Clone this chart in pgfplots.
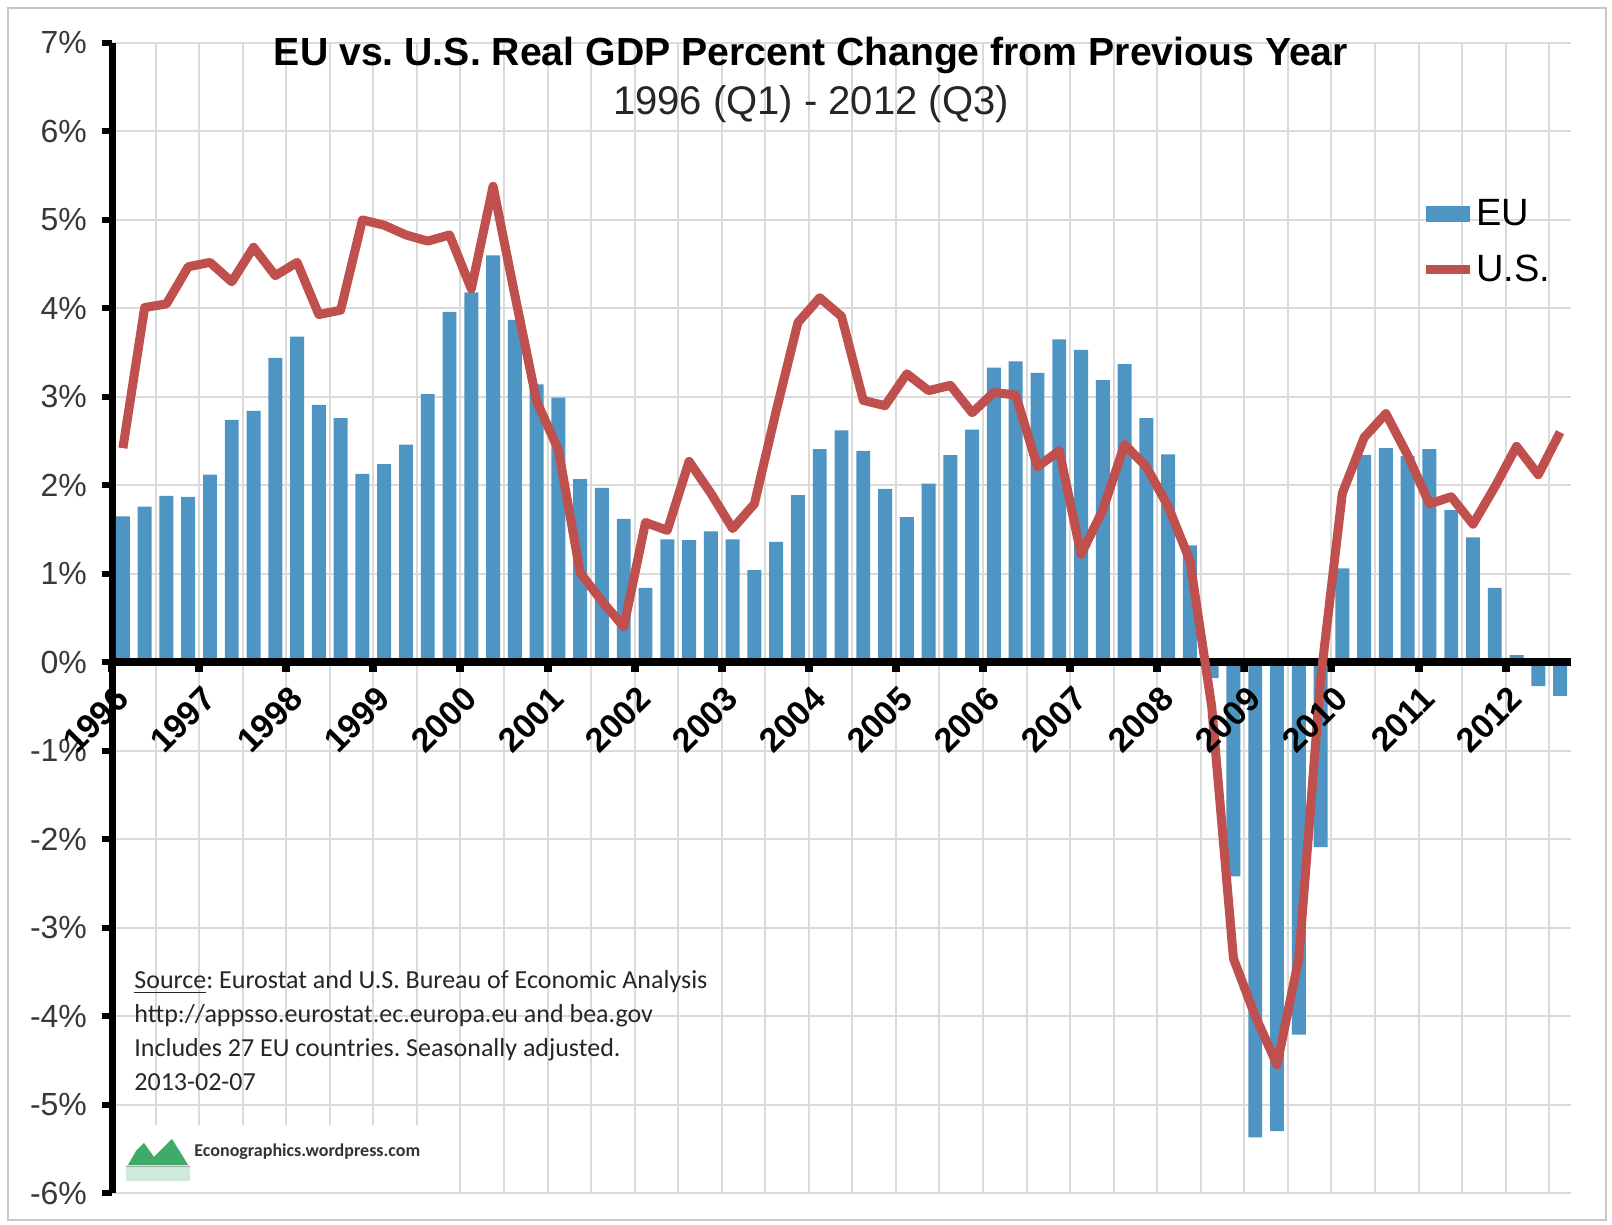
\documentclass[border=0pt]{standalone}
\usepackage{fontspec}
\setmainfont{Liberation Sans}
\newfontfamily\srcfont{Carlito}
\usepackage{pgfplots}
\usepackage{pgfplotstable}
\pgfplotsset{compat=1.18}

\definecolor{eublue}{RGB}{79,149,196}
\definecolor{usred}{RGB}{192,80,77}
\definecolor{gridgray}{RGB}{218,218,218}
\definecolor{logogreen}{RGB}{62,172,104}

% shared geometry of the plot box
\pgfplotsset{gdpbox/.style={
    at={(56pt,16pt)}, anchor=south west,
    scale only axis,
    width=729.5pt, height=575pt,
    xmin=-0.5, xmax=66.5,
    ymin=-6, ymax=7,
    xtick={-0.5,3.5,7.5,11.5,15.5,19.5,23.5,27.5,31.5,35.5,39.5,43.5,47.5,51.5,55.5,59.5,63.5},
}}

% quarter index (0 = 1996 Q1), EU and U.S. real GDP change from previous year, %
\pgfplotstableread{
q eu us
0 1.65 2.42
1 1.76 4.01
2 1.88 4.05
3 1.87 4.47
4 2.12 4.52
5 2.74 4.30
6 2.84 4.69
7 3.44 4.37
8 3.68 4.52
9 2.91 3.93
10 2.76 3.98
11 2.13 5.00
12 2.24 4.94
13 2.46 4.83
14 3.03 4.76
15 3.96 4.83
16 4.18 4.22
17 4.60 5.38
18 3.87 4.15
19 3.14 2.95
20 2.99 2.40
21 2.07 1.01
22 1.97 0.69
23 1.62 0.40
24 0.84 1.58
25 1.39 1.49
26 1.38 2.27
27 1.48 1.91
28 1.39 1.51
29 1.04 1.79
30 1.36 2.84
31 1.89 3.84
32 2.41 4.12
33 2.62 3.91
34 2.39 2.96
35 1.96 2.90
36 1.64 3.26
37 2.02 3.07
38 2.34 3.13
39 2.63 2.82
40 3.33 3.05
41 3.40 3.02
42 3.27 2.21
43 3.65 2.39
44 3.53 1.22
45 3.19 1.72
46 3.37 2.46
47 2.76 2.21
48 2.35 1.76
49 1.32 1.15
50 -0.18 -0.50
51 -2.42 -3.35
52 -5.37 -4.00
53 -5.30 -4.55
54 -4.21 -3.35
55 -2.09 -0.20
56 1.06 1.91
57 2.34 2.54
58 2.42 2.81
59 2.33 2.34
60 2.41 1.79
61 1.72 1.87
62 1.41 1.56
63 0.84 1.98
64 0.08 2.44
65 -0.27 2.12
66 -0.38 2.60
}\gdp

\begin{document}
\frenchspacing
\begin{tikzpicture}
\useasboundingbox (0,0) rectangle (806pt,612.5pt);
\fill[white] (0,0) rectangle (806pt,612.5pt);
\draw[black!22, line width=1pt] (4pt,2.5pt) rectangle (803pt,608.5pt);
\begin{axis}[
    gdpbox,
    axis x line*=middle,
    axis y line*=left,
    hide obscured x ticks=false,
    hide obscured y ticks=false,
    x axis line style={line width=4pt, black},
    y axis line style={line width=3.5pt, black},
    xticklabels={},
    minor xtick={1.5,5.5,9.5,13.5,17.5,21.5,25.5,29.5,33.5,37.5,41.5,45.5,49.5,53.5,57.5,61.5,65.5},
    ytick={-6,-5,-4,-3,-2,-1,0,1,2,3,4,5,6,7},
    yticklabels={-6\%,-5\%,-4\%,-3\%,-2\%,-1\%,0\%,1\%,2\%,3\%,4\%,5\%,6\%,7\%},
    tick align=outside,
    major tick length=5pt,
    xtick style={black, line width=4pt},
    ytick style={black, line width=3pt},
    minor x tick style={draw=none},
    grid=both,
    major grid style={gridgray, line width=1pt},
    minor grid style={gridgray, line width=1pt},
    yticklabel style={font=\fontsize{16}{16}\selectfont, text=black!78, xshift=-4pt},
    legend style={at={(0.897,0.866)}, anchor=north west, draw=none, fill=none,
        font=\fontsize{19}{22}\selectfont, inner sep=0pt, row sep=11pt,
        nodes={inner sep=1pt}},
    legend cell align=left,
]
\addplot[ybar, bar width=0.64, fill=eublue, draw=none,
    legend image code/.code={\fill[eublue] (0pt,-4pt) rectangle (22pt,4pt);}]
    table[x=q, y=eu] {\gdp};
\addlegendentry{EU}
\addplot[black, line width=4pt, forget plot] coordinates {(-0.5,0) (66.5,0)};
\addplot[usred, line width=4.5pt, line join=round, mark=none,
    legend image code/.code={\draw[usred, line width=4.5pt] (0pt,0pt) -- (22pt,0pt);}]
    table[x=q, y=us] {\gdp};
\addlegendentry{U.S.}
\end{axis}

% year labels drawn over the bars
\begin{axis}[
    gdpbox,
    axis x line*=middle,
    axis y line=none,
    hide obscured x ticks=false,
    x axis line style={draw=none},
    xtick style={draw=none},
    ytick=\empty,
    xticklabels={1996,1997,1998,1999,2000,2001,2002,2003,2004,2005,2006,2007,2008,2009,2010,2011,2012},
    xticklabel style={font=\fontsize{17}{17}\selectfont\bfseries, rotate=45, anchor=east, xshift=-3.75pt, yshift=-14.6pt},
]
\end{axis}

\node[anchor=base, font=\fontsize{19.6}{20}\selectfont\bfseries] at (405.5pt,579.5pt)
    {EU vs. U.S. Real GDP Percent Change from Previous Year};
\node[anchor=base, font=\fontsize{20}{20}\selectfont, text=black!85] at (405.5pt,555pt)
    {1996 (Q1) - 2012 (Q3)};

\begin{scope}[every node/.style={anchor=base west, inner sep=0pt, text=black!85,
        font=\srcfont\fontsize{13}{15}\selectfont}]
\node at (67pt,118pt) {\underline{Source}: Eurostat and U.S. Bureau of Economic Analysis};
\node at (67pt,101pt) {http://appsso.eurostat.ec.europa.eu and bea.gov};
\node at (67pt,84pt) {Includes 27 EU countries. Seasonally adjusted.};
\node at (67pt,67pt) {2013-02-07};
\end{scope}

% logo
\fill[white] (59pt,16.5pt) rectangle (220pt,50pt);
\fill[logogreen!25] (63pt,22pt) rectangle (95pt,30pt);
\fill[logogreen] (64pt,30pt) -- (68pt,37pt) -- (72pt,41pt) -- (77pt,34pt) -- (81pt,38pt) -- (86pt,43pt) -- (91pt,35pt) -- (94pt,30pt) -- cycle;
\draw[black!35, line width=0.5pt] (63pt,29pt) -- (95pt,29pt);
\node[anchor=base west, inner sep=0pt, font=\srcfont\bfseries\fontsize{9}{9}\selectfont, text=black!80]
    at (97pt,34pt) {Econographics.wordpress.com};
\end{tikzpicture}
\end{document}
